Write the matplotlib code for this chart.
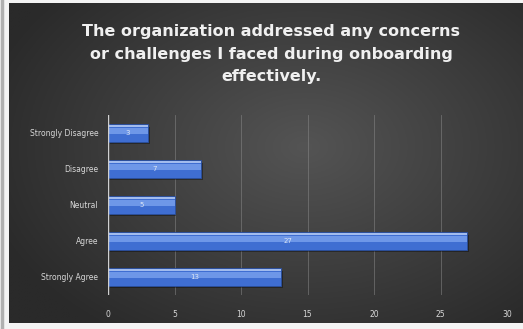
import numpy as np
import matplotlib
matplotlib.use("Agg")
import matplotlib.pyplot as plt

categories = ["Strongly Agree", "Agree", "Neutral", "Disagree", "Strongly Disagree"]
counts = [13, 27, 5, 7, 3]
x_ticks = [0, 5, 10, 15, 20, 25, 30]
title = "The organization addressed any concerns\nor challenges I faced during onboarding\neffectively."

W, H = 523, 329
fig = plt.figure(figsize=(W / 100, H / 100), dpi=100)
fig.patch.set_facecolor("#f4f4f4")

# dark panel with a soft radial gradient
bg = fig.add_axes([9 / W, 6 / H, (W - 9) / W, (H - 9) / H])
yy, xx = np.mgrid[-1:1:200j, -1:1:300j]
r = np.sqrt(((xx - 0.15) / 1.0) ** 2 + ((yy + 0.1) / 1.1) ** 2)
shade = np.clip(1 - r / 1.3, 0, 1)
c_out = np.array([0x2a, 0x2a, 0x2a]) / 255
c_in = np.array([0x54, 0x54, 0x54]) / 255
img = c_out + (c_in - c_out) * shade[..., None]
bg.imshow(img, aspect="auto", extent=[0, 1, 0, 1])
bg.set_axis_off()
fig.add_artist(plt.Line2D([2 / W, 2 / W], [0, 1], color="#b0b0b0", lw=2.5))

ax = fig.add_axes([108 / W, 1 - 295 / H, 399 / W, 180 / H])
ax.set_facecolor("none")
y = np.arange(len(categories))

# shadow, body and highlight of each bar
ax.barh(y - 0.06, counts, height=0.48, left=0.15, color="black", alpha=0.35, zorder=2)
ax.barh(y, counts, height=0.48, color="#3F6ED2", edgecolor="#2a4f9e", lw=0.6, zorder=3)
ax.barh(y + 0.06, counts, height=0.18, color="#7FA5F0", alpha=0.75, zorder=4)
ax.barh(y + 0.19, counts, height=0.06, color="#bcd0f6", alpha=0.8, zorder=4)

for yi, v in zip(y, counts):
    ax.text(v / 2, yi, str(v), ha="center", va="center", color="#dde6f5",
            fontsize=5, zorder=5)

ax.set_xlim(0, 30)
ax.set_ylim(-0.5, 4.5)
ax.set_xticks(x_ticks)
ax.set_xticklabels([str(t) for t in x_ticks])
ax.set_yticks(y)
ax.set_yticklabels(categories)
ax.tick_params(axis="both", length=0, colors="#d8d8d8", labelsize=5.5)
ax.tick_params(axis="x", pad=11)
ax.tick_params(axis="y", pad=7)
for s in ax.spines.values():
    s.set_visible(False)
ax.xaxis.grid(True, color="#8a8a8a", lw=0.6, alpha=0.6, zorder=0)
ax.set_axisbelow(True)
ax.axvline(0, color="#d0d0d0", lw=1.0, zorder=6)

fig.text(271 / W, 1 - 54 / H, title, ha="center", va="center", color="#f0f0f0",
         fontsize=11.5, fontweight="bold", linespacing=1.65)

fig.savefig("out.png", dpi=100, facecolor=fig.get_facecolor())
